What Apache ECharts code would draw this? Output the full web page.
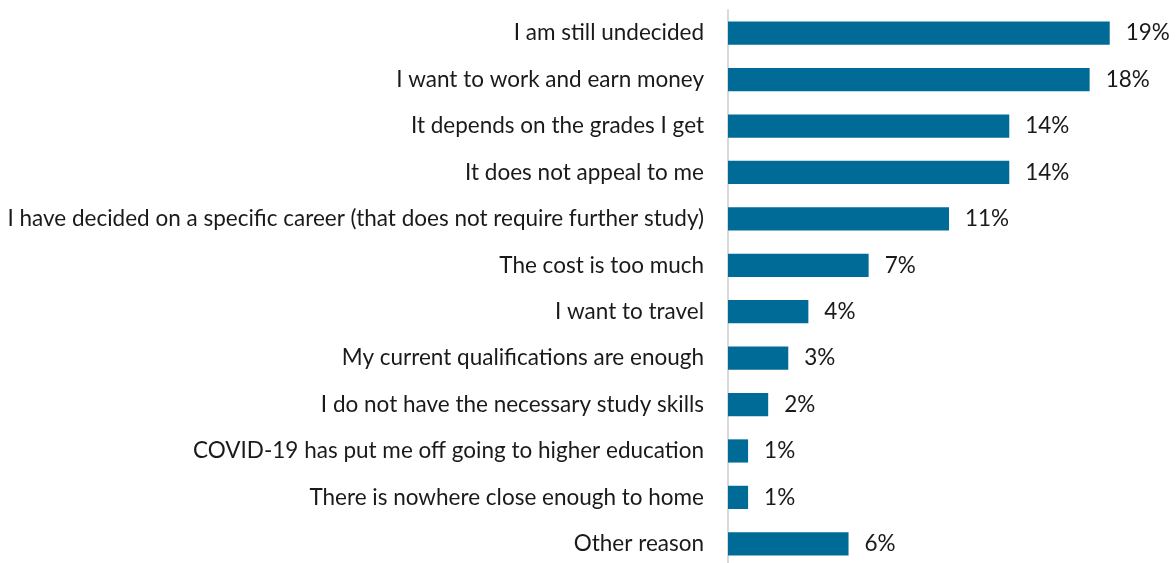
<!DOCTYPE html>
<html>
<head>
<meta charset="utf-8">
<script src="https://cdn.jsdelivr.net/npm/echarts@6/dist/echarts.min.js"></script>
<style>
  html, body { margin: 0; padding: 0; background: #ffffff; }
  #chart { width: 1176px; height: 563px; }
</style>
</head>
<body>
<div id="chart"></div>
<script>
// Reasons for not going on to higher education (top to bottom)
const reasons = [
  "I am still undecided",
  "I want to work and earn money",
  "It depends on the grades I get",
  "It does not appeal to me",
  "I have decided on a specific career (that does not require further study)",
  "The cost is too much",
  "I want to travel",
  "My current qualifications are enough",
  "I do not have the necessary study skills",
  "COVID-19 has put me off going to higher education",
  "There is nowhere close enough to home",
  "Other reason"
];
const shares = [19, 18, 14, 14, 11, 7, 4, 3, 2, 1, 1, 6];

const chart = echarts.init(document.getElementById('chart'));
chart.setOption({
  animation: false,
  grid: {
    left: 728, right: 6, top: 10, height: 557,
    containLabel: false,
    outerBoundsMode: 'none'
  },
  xAxis: {
    type: 'value',
    min: 0,
    max: 22,
    show: false
  },
  yAxis: {
    type: 'category',
    inverse: true,
    data: reasons,
    axisLine: { show: true, lineStyle: { color: '#d9d9d9', width: 2 } },
    axisTick: { show: false },
    axisLabel: {
      margin: 24,
      color: '#1a1a1a',
      fontFamily: 'Lato',
      fontSize: 22.5,
      padding: [4, 0, 0, 0]
    }
  },
  series: [{
    type: 'bar',
    data: shares,
    barCategoryGap: '50%',
    itemStyle: { color: '#006b96' },
    label: {
      show: true,
      position: 'right',
      distance: 16,
      formatter: '{c}%',
      color: '#1a1a1a',
      fontFamily: 'Lato',
      fontSize: 22.5,
      padding: [4, 0, 0, 0]
    }
  }]
});
</script>
</body>
</html>
